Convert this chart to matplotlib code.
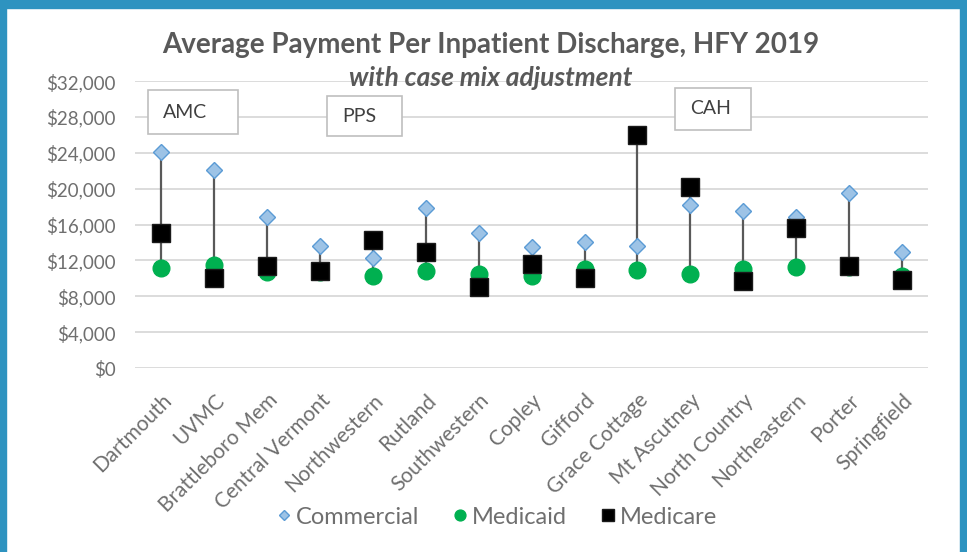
import matplotlib.pyplot as plt
from matplotlib.patches import Rectangle

hospitals = ["Dartmouth", "UVMC", "Brattleboro Mem", "Central Vermont", "Northwestern",
             "Rutland", "Southwestern", "Copley", "Gifford", "Grace Cottage",
             "Mt Ascutney", "North Country", "Northeastern", "Porter", "Springfield"]
commercial = [24100, 22100, 16800, 13600, 12300, 17800, 15100, 13500, 14100, 13600,
              18200, 17500, 16900, 19500, 12900]
medicaid = [11200, 11500, 10700, 10700, 10300, 10800, 10500, 10300, 11100, 10900,
            10500, 11100, 11300, 11300, 10300]
medicare = [15100, 10000, 11400, 10800, 14300, 12900, 9000, 11600, 10000, 26000,
            20200, 9700, 15600, 11400, 9800]
yticks = list(range(0, 32001, 4000))
group_labels = ["AMC", "PPS", "CAH"]

plt.rcParams["font.family"] = ["Lato", "DejaVu Sans"]
gray = "#595959"
tick_gray = "#6f6f6f"

fig = plt.figure(figsize=(9.67, 5.52), dpi=100)
ax = fig.add_axes([0.1396, 0.3333, 0.8204, 0.5197])

x = list(range(len(hospitals)))
# high-low line per hospital, behind the markers
for i in x:
    vals = [commercial[i], medicaid[i], medicare[i]]
    ax.plot([i, i], [min(vals), max(vals)], color="#595959", lw=1.6, zorder=2)

ax.plot(x, commercial, ls="none", marker="D", ms=8, mfc="#9DC3E6", mec="#5B9BD5",
        mew=1.0, label="Commercial", zorder=3)
ax.plot(x, medicaid, ls="none", marker="o", ms=12, mfc="#00B050", mec="#00B050",
        label="Medicaid", zorder=4)
ax.plot(x, medicare, ls="none", marker="s", ms=12.5, mfc="#000000", mec="#1a1a1a",
        label="Medicare", zorder=5)

ax.set_xlim(-0.5, len(hospitals) - 0.5)
ax.set_ylim(0, 32000)
ax.set_yticks(yticks)
ax.set_yticklabels([f"${v:,.0f}" for v in yticks], color=tick_gray, fontsize=13.5)
ax.yaxis.grid(True, color="#D9D9D9", lw=1.3, zorder=0)
ax.set_axisbelow(True)
ax.set_xticks(x)
ax.set_xticklabels(hospitals, rotation=45, ha="right", rotation_mode="anchor",
                   color=tick_gray, fontsize=15)
ax.tick_params(axis="x", length=0, pad=16)
ax.tick_params(axis="y", length=0, pad=14)
for s in ax.spines.values():
    s.set_visible(False)

fig.text(0.507, 0.918, "Average Payment Per Inpatient Discharge, HFY 2019",
         ha="center", va="center", fontsize=20, fontweight="bold", color=gray)
fig.text(0.507, 0.858, "with case mix adjustment", ha="center", va="center",
         fontsize=19, fontweight="bold", style="italic", color=gray)

# category boxes (figure pixel coords)
boxes = [(148, 90, 90, 44), (327, 96, 75, 40), (675, 88, 76, 42)]
for (bx, by, bw, bh), lab in zip(boxes, group_labels):
    fig.patches.append(Rectangle((bx / 967, 1 - (by + bh) / 552), bw / 967, bh / 552,
                                 transform=fig.transFigure, facecolor="white",
                                 edgecolor="#BFBFBF", lw=1.2, zorder=6))
    fig.text((bx + 15) / 967, 1 - (by + bh / 2) / 552, lab, ha="left", va="center",
             fontsize=14, color="#404040", zorder=7)

leg = fig.legend(loc="center", bbox_to_anchor=(0.512, 0.063), ncol=3, frameon=False,
                 fontsize=17, handletextpad=0.05, columnspacing=1.3, markerscale=0.65,
                 handlelength=0.9)
for t in leg.get_texts():
    t.set_color(tick_gray)

# blue frame
frame = "#2E93C0"
fig.patches.append(Rectangle((0, 0), 6 / 967, 1, transform=fig.transFigure,
                             color=frame, zorder=10))
fig.patches.append(Rectangle((0, 1 - 8 / 552), 1, 8 / 552, transform=fig.transFigure,
                             color=frame, zorder=10))
fig.patches.append(Rectangle((1 - 7 / 967, 0), 7 / 967, 1, transform=fig.transFigure,
                             color=frame, zorder=10))

fig.savefig("out.png", dpi=100)
